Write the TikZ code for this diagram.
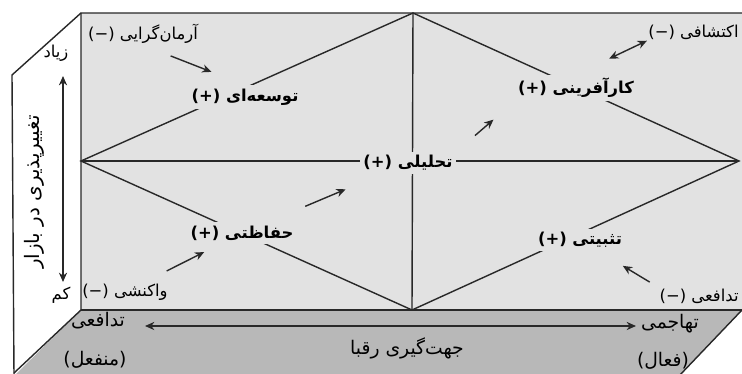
\documentclass[tikz,border=0pt]{standalone}
\usepackage{fontspec}
\usepackage{tikz}
\usetikzlibrary{arrows.meta, positioning}
\TeXXeTstate=1
\newfontfamily\persian[Script=Arabic]{DejaVu Sans}
\newcommand{\fa}[1]{{\persian\beginR #1\endR}}
\definecolor{panelgray}{RGB}{226,226,226}
\definecolor{floorgray}{RGB}{184,184,184}
\definecolor{inkgray}{RGB}{40,40,40}
\tikzset{
  edge/.style={draw=inkgray, line width=1.2pt},
  stage/.style={font=\bfseries\fontsize{14}{16}\selectfont, fill=panelgray, inner sep=3pt},
  pole/.style={font=\fontsize{14}{16}\selectfont, inner sep=1pt},
  floortext/.style={font=\fontsize{16}{18}\selectfont, inner sep=1pt},
  flow/.style={-{Stealth[length=8pt,width=7pt]}, draw=inkgray, line width=1.2pt},
  twoway/.style={{Stealth[length=8pt,width=7pt]}-{Stealth[length=8pt,width=7pt]}, draw=inkgray, line width=1.2pt},
}

\begin{document}
\begin{tikzpicture}[x=0.03cm, y=-0.03cm]
  \useasboundingbox (0,0) rectangle (742,374);
  % جعبه
  \fill[panelgray] (81,13) rectangle (760,310);
  \fill[floorgray] (81,310) -- (742,310) -- (679,376) -- (14,376) -- cycle;
  \draw[edge] (14,376) -- (12,75) -- (81,13) -- (760,13);
  \draw[edge] (81,13) -- (81,310) -- (14,373);
  \draw[edge] (81,310) -- (760,310);
  \draw[edge] (742,310) -- (679,376);

  % لوزی
  \coordinate (L) at (81,161);
  \coordinate (T) at (413,13);
  \coordinate (R) at (739,161);
  \coordinate (B) at (412,310);
  \draw[edge] (L) -- (T) -- (R) -- (B) -- cycle;
  \draw[edge] (L) -- (R);
  \draw[edge] (T) -- (B);

  \node[stage] (tose) at (245,97) {\fa{توسعه‌ای (+)}};
  \node[stage] (karafarini) at (576,88) {\fa{کارآفرینی (+)}};
  \node[stage] (tahlili) at (408,163) {\fa{تحلیلی (+)}};
  \node[stage] (hefazati) at (242,233) {\fa{حفاظتی (+)}};
  \node[stage] (tasbiti) at (580,240) {\fa{تثبیتی (+)}};

  \node[pole] (armangarayi) at (143,34) {\fa{آرمان‌گرایی (−)}};
  \node[pole, anchor=east] (ekteshafi) at (740,32) {\fa{اکتشافی (−)}};
  \node[pole] (vakoneshi) at (125,292) {\fa{واکنشی (−)}};
  \node[pole, anchor=east] (tadafoiB) at (740,296) {\fa{تدافعی (−)}};

  \draw[flow, shorten <=0.89cm, shorten >=1.08cm] (armangarayi.south) -- (tose.north);
  \draw[twoway, shorten <=1.1cm, shorten >=0cm] (karafarini.north) -- (ekteshafi.south west);
  \draw[flow, shorten <=2.06cm, shorten >=2.03cm] (hefazati.center) -- (tahlili.center);
  \draw[flow, shorten <=0.74cm, shorten >=0.83cm] (tahlili.north east) -- (karafarini.south west);
  \draw[flow, shorten <=1.4cm, shorten >=1.27cm] (vakoneshi.center) -- (hefazati.center);
  \draw[flow, shorten <=0.3cm, shorten >=1.5cm] (tadafoiB.north west) -- (tasbiti.center);

  % دیواره
  \node[pole] (ziad) at (56,53) {\fa{زیاد}};
  \node[pole] (kam) at (61,295) {\fa{کم}};
  \node[pole, rotate=90, font=\fontsize{17}{19}\selectfont] (taghyir) at (34,192) {\fa{تغییرپذیری در بازار}};
  \coordinate (ziadtip) at (63,76);
  \coordinate (kamtip) at (63,282);
  \draw[twoway] (ziadtip) -- (kamtip);

  % کف
  \node[floortext] (tadafoiA) at (98,321) {\fa{تدافعی}};
  \node[floortext] (monfael) at (95,360) {\fa{(منفعل)}};
  \node[floortext] (tahajomi) at (670,324) {\fa{تهاجمی}};
  \node[floortext] (faal) at (663,361) {\fa{(فعال)}};
  \node[floortext] (raqiban) at (407,348) {\fa{جهت‌گیری رقبا}};
  \coordinate (passive) at (145,326);
  \coordinate (active) at (636,326);
  \draw[twoway] (passive) -- (active);
\end{tikzpicture}
\end{document}
